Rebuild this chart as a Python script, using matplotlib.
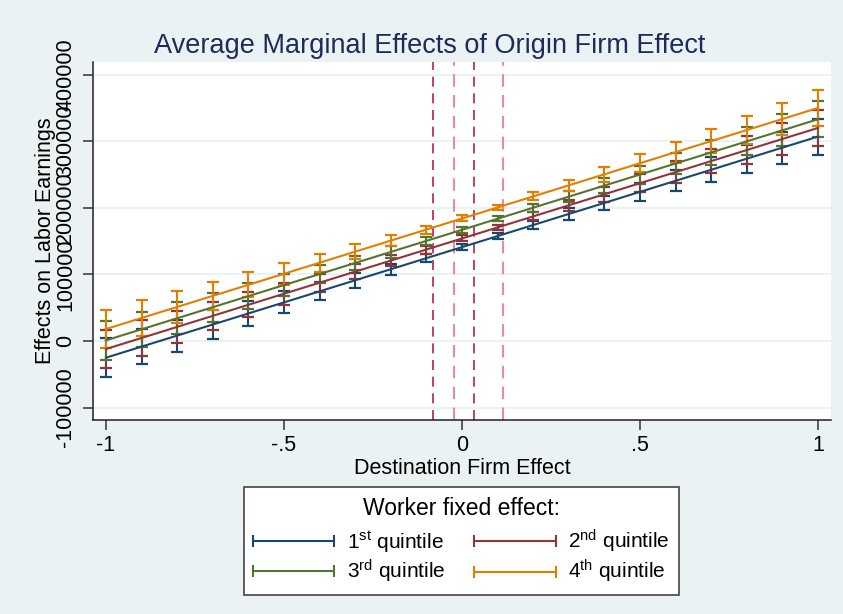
import numpy as np
import matplotlib
matplotlib.use("Agg")
import matplotlib.pyplot as plt
from matplotlib.lines import Line2D
from matplotlib.legend_handler import HandlerLine2D

plt.rcParams['font.family'] = ['Liberation Sans', 'DejaVu Sans']
plt.rcParams['mathtext.default'] = 'regular'

# destination firm effect grid
x = [-1.0, -0.9, -0.8, -0.7, -0.6, -0.5, -0.4, -0.3, -0.2, -0.1, 0.0,
     0.1, 0.2, 0.3, 0.4, 0.5, 0.6, 0.7, 0.8, 0.9, 1.0]

# marginal effects by worker FE quintile
q1 = [-25000, -8400, 8200, 24800, 41400, 58000, 74600, 91200, 107800, 124400, 141000,
      157600, 174200, 190800, 207400, 224000, 240600, 257200, 273800, 290400, 307000]
q2 = [-12000, 4600, 21200, 37800, 54400, 71000, 87600, 104200, 120800, 137400, 154000,
      170600, 187200, 203800, 220400, 237000, 253600, 270200, 286800, 303400, 320000]
q3 = [1000, 17600, 34200, 50800, 67400, 84000, 100600, 117200, 133800, 150400, 167000,
      183600, 200200, 216800, 233400, 250000, 266600, 283200, 299800, 316400, 333000]
q4 = [18000, 34600, 51200, 67800, 84400, 101000, 117600, 134200, 150800, 167400, 184000,
      200600, 217200, 233800, 250400, 267000, 283600, 300200, 316800, 333400, 350000]

# half width of the 95% CI
ci_half = [29000, 26500, 24000, 21500, 19000, 16500, 13500, 11000, 8500, 6000, 4500,
           4000, 6000, 8500, 11000, 13500, 16000, 18500, 21000, 24000, 27000]

labels = ['1$^{st}$ quintile', '2$^{nd}$ quintile', '3$^{rd}$ quintile', '4$^{th}$ quintile']
colors = ['#1a476f', '#90353b', '#55752f', '#e37e00']

# reference lines (dark / light pairs)
vlines_dark = [-0.081, 0.033]
vlines_light = [-0.023, 0.116]

yticks = [-100000, 0, 100000, 200000, 300000, 400000]
xticks = [-1, -0.5, 0, 0.5, 1]
xticklabels = ['-1', '-.5', '0', '.5', '1']

bg = '#eaf2f3'

fig = plt.figure(figsize=(8.43, 6.14), dpi=100, facecolor=bg)
ax = fig.add_axes([93 / 843, 1 - 420 / 614, 738 / 843, 358 / 614])
ax.set_facecolor('white')

for v in yticks:
    ax.axhline(v, color=bg, lw=1.5, zorder=0)

for v in vlines_dark:
    ax.axvline(v, color='#b3214d', lw=1.2, ls=(0, (6, 4)), zorder=1)
for v in vlines_light:
    ax.axvline(v, color='#e78aa3', lw=1.5, ls=(0, (6, 4)), zorder=1)

for ys, c in zip([q1, q2, q3, q4], colors):
    ax.errorbar(x, ys, yerr=ci_half, color=c, lw=1.5, elinewidth=1.5,
                capsize=4.3, capthick=1.6, zorder=3)

ax.set_xlim(-1.0365, 1.0365)
ax.set_ylim(-118600, 419000)
ax.set_xticks(xticks)
ax.set_xticklabels(xticklabels)
ax.set_yticks(yticks)
ax.set_yticklabels([str(v) for v in yticks], rotation=90, va='center')
ax.tick_params(axis='both', labelsize=15.5, length=7, width=1.1, color='#333333', pad=4)
ax.tick_params(axis='y', pad=5)

for s in ['top', 'right']:
    ax.spines[s].set_visible(False)
for s in ['left', 'bottom']:
    ax.spines[s].set_color('#222222')
    ax.spines[s].set_linewidth(1.1)

ax.set_xlabel('Destination Firm Effect', fontsize=15.5, labelpad=1)
ax.set_ylabel('Effects on Labor Earnings', fontsize=15.5)
ax.yaxis.set_label_coords(-0.05, 0.5)

fig.text(430 / 843, 1 - 46 / 614, 'Average Marginal Effects of Origin Firm Effect',
         fontsize=19.5, color='#1e2a5a', ha='center', va='center')

handles = [Line2D([], [], color=c, lw=1.5, marker='|', markersize=8, markeredgewidth=1.5)
           for c in colors]
order = [0, 2, 1, 3]
leg = fig.legend([handles[i] for i in order], [labels[i] for i in order],
                 ncol=2, loc='center', bbox_to_anchor=(461.5 / 843, 1 - 541 / 614),
                 fontsize=15, title='Worker fixed effect:', title_fontsize=16.5,
                 frameon=True, fancybox=False, edgecolor='#444444', facecolor='white',
                 framealpha=1, handlelength=3.9, handletextpad=0.6, columnspacing=1.4,
                 labelspacing=0.15, borderpad=0.45,
                 handler_map={Line2D: HandlerLine2D(marker_pad=0, numpoints=2)})
leg.get_frame().set_linewidth(1.2)
leg._legend_box.sep = 6

fig.savefig('out.png', dpi=100, facecolor=bg)
